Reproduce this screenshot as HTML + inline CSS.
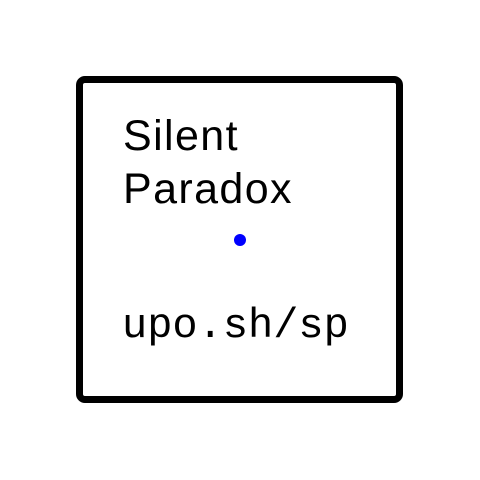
<!DOCTYPE html>
<html><head><style>
html,body{margin:0;padding:0;width:480px;height:480px;background:#fff;overflow:hidden}
.box{position:absolute;left:76px;top:76px;width:313px;height:313px;border:7px solid #000;border-radius:9px}
.t{position:absolute;left:123px;font-family:"Liberation Sans",sans-serif;font-size:43px;letter-spacing:1.4px;line-height:1;color:#000;white-space:nowrap}
.m{position:absolute;left:122px;font-family:"Liberation Mono",monospace;font-size:42px;line-height:1;color:#000;white-space:nowrap}
.dot{position:absolute;left:234px;top:234px;width:12px;height:12px;border-radius:50%;background:#0000ff}
</style></head><body>
<div class="box"></div>
<div class="t" style="top:115px">Silent</div>
<div class="t" style="top:168px">Paradox</div>
<div class="dot"></div>
<div class="m" style="top:305px">upo.sh/sp</div>
</body></html>
